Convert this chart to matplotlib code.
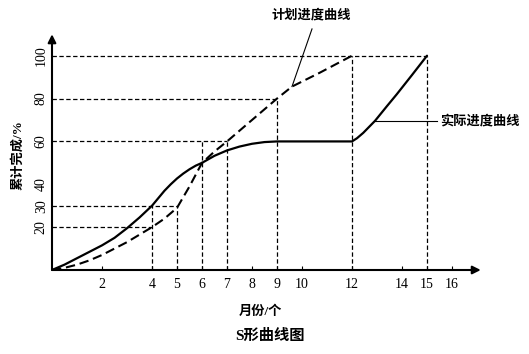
import matplotlib
matplotlib.use('Agg')
import matplotlib.pyplot as plt

plt.rcParams['font.family'] = ['Liberation Serif', 'Noto Sans CJK SC']

# 实际进度曲线 (solid)
actual_m = [0, 0.5, 1, 1.5, 2, 2.5, 3, 3.5, 4, 4.25, 4.5, 4.75, 5, 5.25, 5.5, 5.75, 6,
            6.5, 7, 7.5, 8, 8.5, 9, 12, 12.2, 12.45, 12.92, 13.4, 13.79, 14.4, 15]
actual_pct = [0, 2.5, 5.5, 8.5, 11.5, 15, 19.5, 24.5, 30, 33.5, 37, 40, 42.7, 45, 47, 48.7, 50,
              53.3, 55.8, 57.6, 58.9, 59.7, 60, 60, 61.5, 64, 69.6, 76.5, 82, 91, 100]

# 计划进度曲线 (dashed)
plan_m = [0, 0.5, 1, 1.5, 2, 2.5, 3, 3.5, 4, 4.5, 5, 5.5, 6, 6.5, 7, 8, 9, 9.6, 10.7, 12]
plan_pct = [0, 1, 2.5, 4.5, 7, 10, 13, 16.5, 20, 24, 29, 39, 50, 55.3, 60, 70, 80, 85.6, 92, 100]

# 辅助虚线: (y值, 横线终点月份) / (月份, 竖线顶端百分比)
guide_h = [(20, 4), (30, 5), (60, 7), (80, 9), (100, 15)]
guide_v = [(4, 30), (5, 30), (6, 60), (7, 60), (9, 80), (12, 100), (15, 100)]

xticks = [2, 4, 5, 6, 7, 8, 9, 10, 12, 14, 15, 16]
yticks = [20, 30, 40, 60, 80, 100]

fig = plt.figure(figsize=(5.29, 3.54), dpi=100)
ax = fig.add_axes([52 / 529, 84 / 354, 450 / 529, 240 / 354])
ax.set_xlim(0, 18)
ax.set_ylim(0, 112)
for s in ax.spines.values():
    s.set_visible(False)

guide_style = dict(color='black', lw=0.9, linestyle=(0, (3.5, 2)))
for y, xe in guide_h:
    ax.plot([0, xe], [y, y], **guide_style)
for x, ye in guide_v:
    ax.plot([x, x], [0, ye], **guide_style)

ax.plot(actual_m, actual_pct, color='black', lw=1.6, solid_capstyle='round',
        solid_joinstyle='round')
ax.plot(plan_m, plan_pct, color='black', lw=1.5, linestyle=(0, (4.5, 2.3)))

# axes with arrows
ax.annotate('', xy=(17.15, 0), xytext=(0, 0), annotation_clip=False,
            arrowprops=dict(arrowstyle='-|>', lw=1.5, color='black', mutation_scale=12,
                            shrinkA=0, shrinkB=0))
ax.annotate('', xy=(0, 110), xytext=(0, 0), annotation_clip=False,
            arrowprops=dict(arrowstyle='-|>', lw=1.5, color='black', mutation_scale=12,
                            shrinkA=0, shrinkB=0))

ax.set_xticks(xticks)
ax.set_xticklabels([str(t) for t in xticks], fontsize=10)
ax.set_yticks(yticks)
ax.set_yticklabels([str(t) for t in yticks], fontsize=10, rotation=90, va='center')
ax.tick_params(axis='x', direction='in', length=3, width=0.8, pad=6)
ax.tick_params(axis='y', length=0, pad=3)

# leader lines and labels
ax.plot([9.6, 10.4], [85.6, 112.5], color='black', lw=0.8, clip_on=False)
ax.text(10.36, 119, '计划进度曲线', fontsize=9.5, fontweight='bold',
        ha='center', va='center', clip_on=False)
ax.plot([12.92, 15.4], [69.6, 69.6], color='black', lw=0.8, clip_on=False)
ax.text(15.52, 69.6, '实际进度曲线', fontsize=9.5, fontweight='bold',
        ha='left', va='center', clip_on=False)

fig.text(18 / 529, 1 - 155 / 354, '累计完成/%', fontsize=9.5, fontweight='bold',
         rotation=90, ha='center', va='center')
fig.text(260 / 529, 1 - 312 / 354, '月份/个', fontsize=9.5, fontweight='bold',
         ha='center', va='center')
fig.text(270 / 529, 1 - 336 / 354, 'S形曲线图', fontsize=11, fontweight='bold',
         ha='center', va='center')

fig.savefig('out.png', dpi=100)
